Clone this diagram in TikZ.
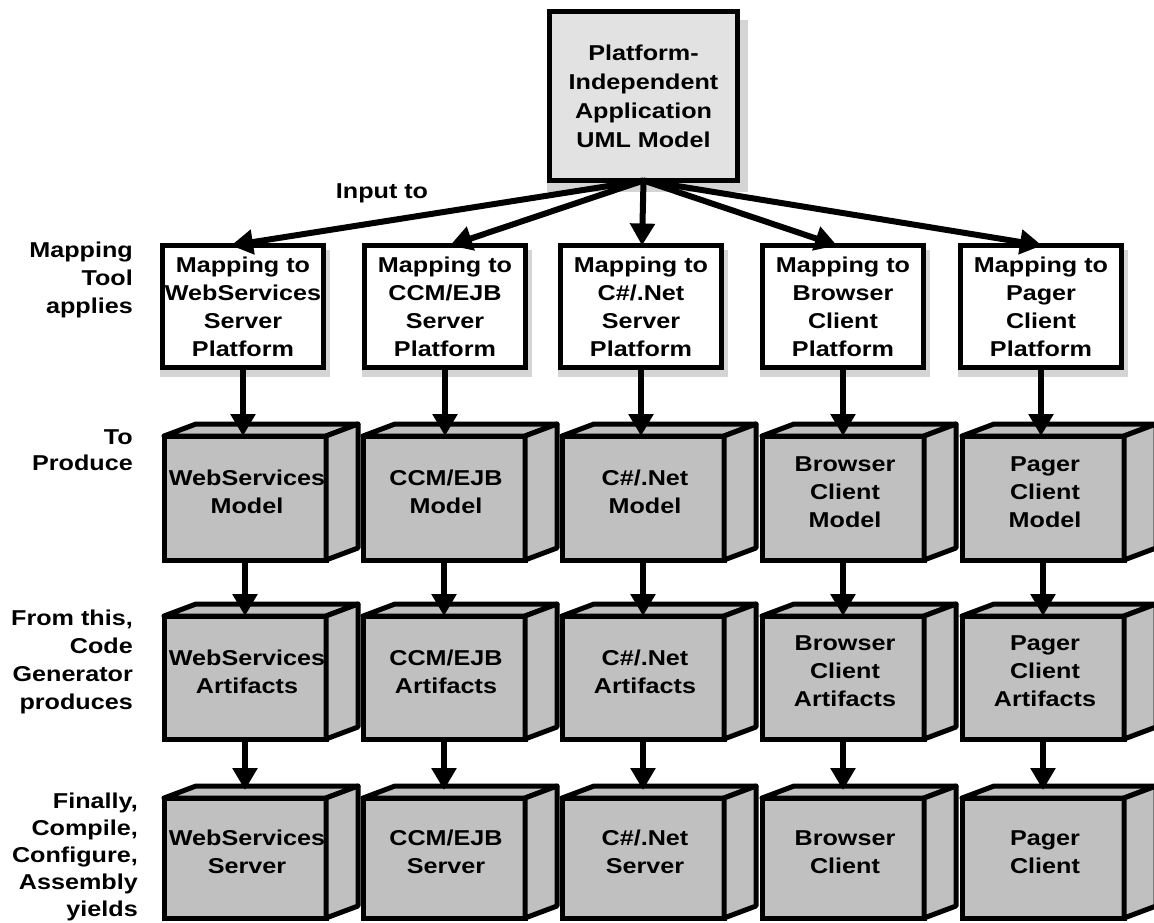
\documentclass[tikz,border=0pt]{standalone}
\usepackage{fontspec}
\setmainfont{Liberation Sans}[FakeStretch=1.17]
\usetikzlibrary{arrows.meta,shadows,calc}
\definecolor{cubegray}{HTML}{C0C0C0}
\definecolor{topgray}{HTML}{E2E2E2}
\definecolor{shadowgray}{HTML}{D4D4D4}
\newcommand\mkcube[5]{%
  \node[front, minimum height=#4pt] (#1) at (#2,#3) {};
  \draw[face] (#1.north west) -- ++(32,-12) -- ($(#1.north east)+(32,-12)$) -- (#1.north east) -- cycle;
  \draw[face] (#1.north east) -- ++(32,-12) -- ($(#1.south east)+(32,-12)$) -- (#1.south east) -- cycle;
  \node[txt] (#1-t) at ($(#1.center)+(2,-6)$) {#5};
}
\begin{document}
\begin{tikzpicture}[x=1pt,y=-1pt,
  font=\bfseries\fontsize{21.5}{28}\selectfont,
  box/.style={draw, line width=5pt, outer sep=0pt, inner sep=0pt, anchor=north west},
  mapbox/.style={box, fill=white, minimum width=161pt, minimum height=122pt},
  topbox/.style={box, fill=topgray, minimum width=188pt, minimum height=169pt},
  shade/.style={fill=shadowgray, draw=none},
  front/.style={box, fill=cubegray, minimum width=162pt},
  face/.style={draw, line width=5pt, fill=cubegray, line join=round},
  txt/.style={align=center, inner sep=0pt},
  lbl/.style={align=right, anchor=east, inner sep=0pt},
  arr/.style={line width=6pt, -{Triangle[length=22pt,width=24pt]}},
]
\useasboundingbox (0,0) rectangle (1154,922);

% soft shadows
\fill[shade] (547,20) rectangle (748,192);
\foreach \x in {160,362,558,760,958}{
  \fill[shade] (\x,250) rectangle (\x+170,377);
}

% top model
\node[topbox] (top) at (549.5,11.5) {};
\node[txt, font=\bfseries\fontsize{21.5}{29}\selectfont] (top-t) at (top.center)
  {Platform-\\Independent\\Application\\UML Model};

% mapping boxes
\node[mapbox] (m1) at (162.5,245.5) {};
\node[mapbox] (m2) at (364.5,245.5) {};
\node[mapbox] (m3) at (560.5,245.5) {};
\node[mapbox] (m4) at (762.5,245.5) {};
\node[mapbox] (m5) at (960.5,245.5) {};
\node[txt] (m1-t) at (m1.center) {Mapping to\\WebServices\\Server\\Platform};
\node[txt] (m2-t) at (m2.center) {Mapping to\\CCM/EJB\\Server\\Platform};
\node[txt] (m3-t) at (m3.center) {Mapping to\\C\#/.Net\\Server\\Platform};
\node[txt] (m4-t) at (m4.center) {Mapping to\\Browser\\Client\\Platform};
\node[txt] (m5-t) at (m5.center) {Mapping to\\Pager\\Client\\Platform};

% model cubes
\mkcube{w1}{164}{436}{124}{WebServices\\Model}
\mkcube{w2}{363}{436}{124}{CCM/EJB\\Model}
\mkcube{w3}{562}{436}{124}{C\#/.Net\\Model}
\mkcube{w4}{762}{436}{124}{Browser\\Client\\Model}
\mkcube{w5}{962}{436}{124}{Pager\\Client\\Model}

% artifact cubes
\mkcube{a1}{164}{616}{123}{WebServices\\Artifacts}
\mkcube{a2}{363}{616}{123}{CCM/EJB\\Artifacts}
\mkcube{a3}{562}{616}{123}{C\#/.Net\\Artifacts}
\mkcube{a4}{762}{616}{123}{Browser\\Client\\Artifacts}
\mkcube{a5}{962}{616}{123}{Pager\\Client\\Artifacts}

% server cubes
\mkcube{s1}{164}{798}{120}{WebServices\\Server}
\mkcube{s2}{363}{798}{120}{CCM/EJB\\Server}
\mkcube{s3}{562}{798}{120}{C\#/.Net\\Server}
\mkcube{s4}{762}{798}{120}{Browser\\Client}
\mkcube{s5}{962}{798}{120}{Pager\\Client}

% left labels
\node[lbl] (l1) at (133,280) {Mapping\\Tool\\applies};
\node[lbl, font=\bfseries\fontsize{21.5}{26}\selectfont] (l2) at (133,450) {To\\Produce};
\node[lbl] (l3) at (133,662) {From this,\\Code\\Generator\\produces};
\node[lbl, font=\bfseries\fontsize{21.5}{27}\selectfont] (l4) at (138,857) {Finally,\\Compile,\\Configure,\\Assembly\\yields};
\node[txt] (inp) at (382,193) {Input to};

% arrows from top model
\draw[arr] (top.south) -- ([xshift=-12pt]m1.north);
\draw[arr] (top.south) -- ([xshift=5pt]m2.north);
\draw[arr] (top.south) -- ([xshift=1pt]m3.north);
\draw[arr] (top.south) -- ([xshift=-6pt]m4.north);
\draw[arr] (top.south) -- ([xshift=1pt]m5.north);

% vertical arrows
\foreach \c in {1,...,5}{
  \draw[arr] (m\c.south) -- (m\c.south |- w\c.north);
  \draw[arr] (w\c.south) -- (a\c.north);
  \draw[arr] (a\c.south) -- ([yshift=8pt]s\c.north);
}
\end{tikzpicture}
\end{document}
